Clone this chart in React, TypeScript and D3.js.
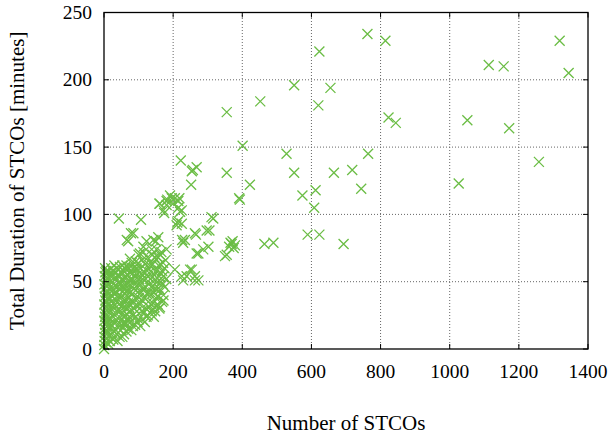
import React from "react";
import * as d3 from "d3";

// [number of STCOs, total duration in minutes]
const clusterPoints: [number, number][] = [
  [0, 0], [1, 3], [2, 6], [1, 9], [3, 12], [2, 15], [4, 18], [1, 21], [3, 24], [2, 27],
  [5, 30], [1, 33], [4, 36], [2, 39], [6, 42], [3, 45], [1, 48], [5, 51], [2, 54], [4, 57],
  [3, 60], [7, 58], [6, 14], [8, 20], [5, 26], [9, 8], [7, 35], [8, 47],
  [12, 4], [15, 10], [18, 16], [14, 22], [20, 28], [11, 33], [16, 38], [22, 43], [13, 49],
  [19, 54], [25, 58], [30, 62], [24, 12], [28, 20], [32, 25], [26, 31], [35, 36], [29, 41],
  [38, 46], [33, 52], [40, 55], [36, 60], [27, 7], [34, 14], [42, 18], [45, 9],
  [48, 14], [52, 22], [46, 28], [55, 33], [50, 39], [58, 44], [44, 50], [62, 53], [56, 58],
  [65, 62], [70, 60], [60, 18], [66, 26], [72, 31], [64, 37], [75, 42], [68, 48], [78, 52],
  [74, 57], [80, 64], [58, 11], [70, 15], [77, 20], [83, 25], [85, 35], [88, 45], [82, 56],
  [90, 18], [95, 28], [100, 22], [92, 38], [98, 48], [104, 33], [108, 42], [96, 55],
  [105, 60], [112, 52], [115, 27], [118, 38], [110, 66], [120, 46], [125, 58], [122, 30],
  [128, 35], [130, 48], [92, 65], [100, 70], [114, 72], [126, 68], [132, 62], [118, 20],
  [105, 17], [135, 40],
  [138, 28], [142, 34], [148, 45], [145, 55], [150, 38], [155, 50], [158, 62], [140, 70],
  [152, 74], [162, 44], [165, 56], [170, 48], [168, 35], [175, 60], [178, 66], [160, 30],
  [172, 40], [180, 52], [144, 24], [155, 33], [166, 72], [150, 80],
  [172, 36], [133, 27], [61, 19], [162, 31], [176, 46], [95, 59], [46, 61], [75, 67],
  [104, 71], [138, 74], [162, 70], [133, 64], [148, 28], [61, 20], [114, 76],
  // denser core
  [6, 5], [10, 12], [9, 17], [11, 24], [8, 29], [12, 38], [9, 42], [10, 53], [13, 58],
  [17, 6], [21, 11], [17, 19], [23, 25], [17, 31], [21, 35], [25, 39], [19, 46], [24, 50],
  [16, 56], [21, 60], [28, 55], [31, 47], [27, 44], [31, 33], [24, 17], [30, 13], [37, 11],
  [37, 21], [39, 28], [43, 33], [41, 39], [36, 42], [43, 45], [48, 48], [46, 54], [51, 57],
  [41, 59], [53, 62], [50, 18], [54, 27], [58, 24], [51, 32], [59, 36], [62, 41], [54, 46],
  [52, 51], [58, 53], [60, 60], [63, 47], [67, 43], [69, 34], [63, 30], [68, 21], [73, 24],
  [76, 28], [79, 35], [71, 38], [82, 41], [78, 47], [73, 51], [84, 50], [70, 55], [86, 60],
  [77, 61], [89, 54], [88, 30], [91, 24], [94, 33], [97, 42], [90, 48], [101, 38], [102, 52],
  [94, 60], [99, 64], [108, 56], [106, 48], [111, 36], [109, 28], [113, 45], [117, 57],
  [119, 63], [121, 52], [124, 41], [127, 25], [131, 31], [129, 42], [134, 52], [127, 54],
  [137, 46], [136, 58], [141, 63], [143, 42], [147, 51], [146, 31], [153, 44], [151, 58],
  [157, 39], [159, 54], [157, 68], [163, 63], [168, 58], [164, 50], [171, 64], [146, 68],
  [84, 17], [97, 20], [111, 22], [123, 24], [79, 14], [65, 13], [53, 9], [39, 6],
];

const midPoints: [number, number][] = [
  [249, 59], [263, 54], [225, 54], [205, 59], [172, 54], [254, 59], [273, 51], [229, 51],
  [239, 54], [263, 51],
  [43, 97], [107, 96], [160, 108], [181, 110], [196, 112], [215, 110], [174, 101],
  [220, 102], [215, 95], [66, 81], [85, 86], [123, 80], [143, 81], [157, 83], [229, 79],
  [226, 81], [210, 92], [181, 74], [172, 103], [205, 112], [162, 108], [78, 86], [70, 80],
  [181, 107], [215, 105], [225, 93], [263, 86], [297, 88], [316, 97], [287, 74], [268, 71],
  [234, 81], [200, 108], [191, 114],
  [252, 122], [254, 132], [222, 140], [257, 133], [268, 135], [218, 112], [183, 111],
  [225, 103], [212, 94], [391, 112], [311, 98], [305, 88], [266, 85], [302, 76], [273, 71],
  [350, 69], [355, 70], [362, 76], [366, 79], [369, 78], [372, 80], [375, 75], [379, 77],
  [422, 122], [393, 111],
];

const outlierPoints: [number, number][] = [
  [762, 234], [814, 229], [1113, 211], [1156, 210], [1318, 229], [1344, 205], [623, 221],
  [655, 194], [620, 181], [823, 172], [844, 168], [1051, 170], [1172, 164], [764, 145],
  [718, 133], [665, 131], [744, 119], [1026, 123], [1258, 139], [693, 78], [355, 176],
  [452, 184], [550, 196], [401, 151], [528, 145], [355, 131], [550, 131], [574, 114],
  [612, 118], [608, 105], [589, 85], [623, 85], [464, 78], [490, 79],
];

const xTicks = [0, 200, 400, 600, 800, 1000, 1200, 1400];
const yTicks = [0, 50, 100, 150, 200, 250];

const W = 612;
const H = 440;
const margin = { top: 12.5, right: 24, bottom: 91, left: 104 };
const green = "#6bbd45";
const font = "'Liberation Serif', 'DejaVu Serif', serif";

export default function App() {
  const x = d3
    .scaleLinear()
    .domain([0, 1400])
    .range([margin.left, W - margin.right]);
  const y = d3
    .scaleLinear()
    .domain([0, 250])
    .range([H - margin.bottom, margin.top]);

  const [x0, x1] = x.range();
  const [y0, y1] = y.range();
  const all = [...clusterPoints, ...midPoints, ...outlierPoints];
  const s = 5;

  return (
    <svg
      width={W}
      height={H}
      style={{ position: "absolute", left: 0, top: 0, background: "#fff" }}
    >
      {/* grid */}
      {xTicks.slice(1, -1).map((t) => (
        <line key={"gx" + t} x1={x(t)} x2={x(t)} y1={y0} y2={y1}
          stroke="#666" strokeWidth={1} strokeDasharray="1,2" />
      ))}
      {yTicks.slice(1, -1).map((t) => (
        <line key={"gy" + t} x1={x0} x2={x1} y1={y(t)} y2={y(t)}
          stroke="#666" strokeWidth={1} strokeDasharray="1,2" />
      ))}

      {/* points */}
      <g stroke={green} strokeWidth={1.3} fill="none">
        {all.map(([dx, dy], i) => {
          const cx = x(dx);
          const cy = y(dy);
          return (
            <path key={i}
              d={`M${cx - s},${cy - s}L${cx + s},${cy + s}M${cx - s},${cy + s}L${cx + s},${cy - s}`} />
          );
        })}
      </g>

      {/* frame + ticks */}
      <rect x={x0} y={y1} width={x1 - x0} height={y0 - y1}
        fill="none" stroke="#000" strokeWidth={1.3} />
      {xTicks.map((t) => (
        <g key={"tx" + t} stroke="#000" strokeWidth={1}>
          <line x1={x(t)} x2={x(t)} y1={y0} y2={y0 - 5} />
          <line x1={x(t)} x2={x(t)} y1={y1} y2={y1 + 5} />
        </g>
      ))}
      {yTicks.map((t) => (
        <g key={"ty" + t} stroke="#000" strokeWidth={1}>
          <line x1={x0} x2={x0 + 5} y1={y(t)} y2={y(t)} />
          <line x1={x1} x2={x1 - 5} y1={y(t)} y2={y(t)} />
        </g>
      ))}

      {/* tick labels */}
      <g fontFamily={font} fontSize={19.5} fill="#000">
        {xTicks.map((t) => (
          <text key={"lx" + t} x={x(t)} y={y0 + 29} textAnchor="middle">{t}</text>
        ))}
        {yTicks.map((t) => (
          <text key={"ly" + t} x={x0 - 12} y={y(t) + 6.5} textAnchor="end">{t}</text>
        ))}
      </g>
      <g fontFamily={font} fontSize={21} fill="#000">
        <text x={(x0 + x1) / 2} y={430} textAnchor="middle">Number of STCOs</text>
        <text transform={`translate(24,${(y0 + y1) / 2}) rotate(-90)`} textAnchor="middle">
          Total Duration of STCOs [minutes]
        </text>
      </g>
    </svg>
  );
}
